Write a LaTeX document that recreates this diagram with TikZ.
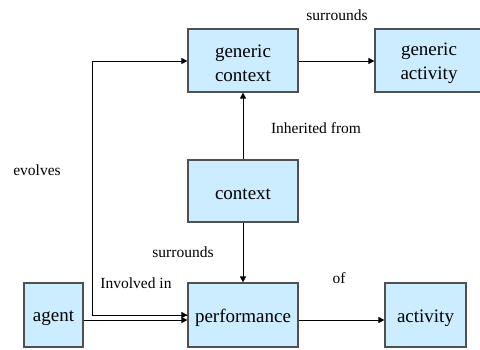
\documentclass[tikz,border=0pt]{standalone}
\usepackage{fontspec}
\setmainfont{Liberation Serif}
\usetikzlibrary{arrows.meta}
\definecolor{boxfill}{HTML}{CCECFF}
\definecolor{boxline}{HTML}{505050}
\begin{document}
\begin{tikzpicture}[x=1pt,y=-1pt,
  box/.style={draw=boxline,line width=1.2pt,fill=boxfill,inner sep=0pt,
    label={[font=\fontsize{19}{24}\selectfont,align=center,inner sep=0pt,yshift=-3pt]center:#1}},
  lbl/.style={font=\fontsize{15.5}{18}\selectfont,inner sep=0pt},
  link/.style={draw=black,line width=0.9pt,-{Triangle[length=6pt,width=6pt]}}]
\useasboundingbox (0,0) rectangle (480,349);
\begin{scope}
\clip (0,0) rectangle (480,349);
% boxes
\node[box={generic\\context},minimum width=110pt,minimum height=63pt] (gctx) at (243,60.5) {};
\node[box={generic\\activity},minimum width=108pt,minimum height=63pt] (gact) at (429,60.5) {};
\node[box=context,minimum width=110pt,minimum height=62pt] (ctx) at (243,191) {};
\node[box=agent,minimum width=59pt,minimum height=64pt] (agent) at (53.5,315) {};
\node[box=performance,minimum width=110pt,minimum height=64pt] (perf) at (243,315) {};
\node[box=activity,minimum width=81pt,minimum height=64pt] (act) at (425.5,315) {};
\end{scope}
% connectors
\coordinate (ev) at (92,315);
\draw[link] (gctx.east |- 0,61) -- (gact.west |- 0,61);
\draw[link] (ctx.north) -- (gctx.south);
\draw[link] (ctx.south) -- (perf.north);
\draw[link] (agent.east |- 0,320) -- (perf.west |- 0,320);
\draw[link] (perf.east |- 0,320) -- (act.west |- 0,320);
\draw[link] (perf.west |- 0,315) -- (ev) -- (ev |- 0,61) -- (gctx.west |- 0,61);
\draw[link] (ev) -- (perf.west |- 0,315);
% labels
\node[lbl] (l1) at (337,15) {surrounds};
\node[lbl] (l2) at (316,128) {Inherited from};
\node[lbl] (l3) at (37,170) {evolves};
\node[lbl] (l4) at (183,252) {surrounds};
\node[lbl] (l5) at (136,283) {Involved in};
\node[lbl] (l6) at (339,278) {of};
\end{tikzpicture}
\end{document}
